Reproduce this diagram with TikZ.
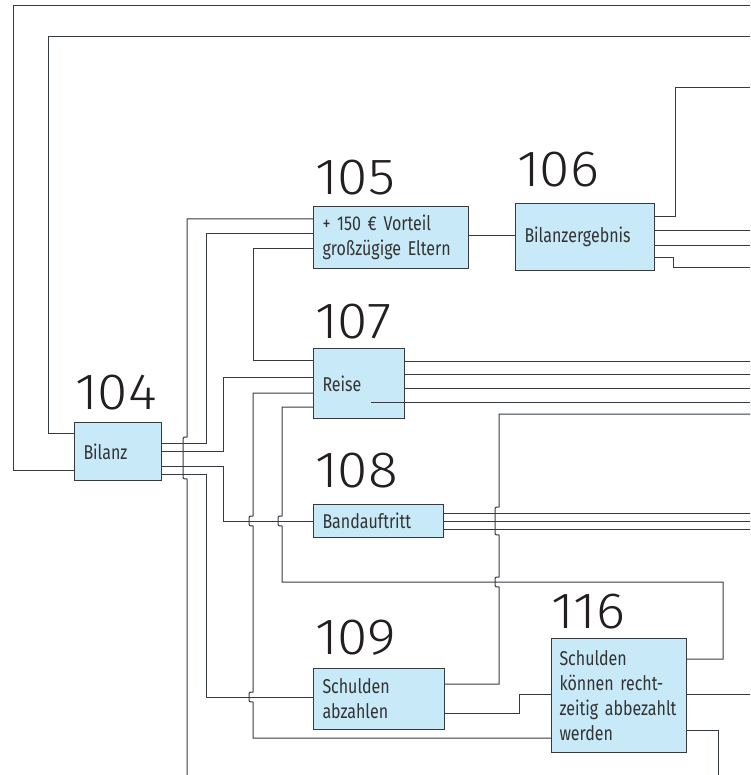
\documentclass[tikz,border=0pt]{standalone}
\usepackage{fontspec}
\setmainfont{Fira Sans}[FakeStretch=0.8, WordSpace=0.7]
\newfontfamily\numfont{Fira Sans Light}[FakeStretch=1.08]
\usetikzlibrary{positioning}

\definecolor{boxfill}{HTML}{C7E9F8}
\definecolor{wirecol}{HTML}{353B40}
\definecolor{numcol}{HTML}{231F20}

% vertical line hopping over horizontal ones
\newcommand{\hop}[3]{-- (#1,#2) .. controls (#1-4,#2) .. (#1-4,#2+4) -- (#1-4,#3-4) .. controls (#1-4,#3) .. (#1,#3)}

\begin{document}
\begin{tikzpicture}[
    x=1pt, y=-1pt,
    box/.style={rectangle, draw=wirecol, line width=1pt, fill=boxfill, anchor=north west, align=left, inner xsep=9pt, inner ysep=0pt, font=\fontsize{20}{25}\selectfont, text=black!80},
    num/.style={inner sep=0pt, font=\numfont\fontsize{51}{51}\selectfont, text=numcol},
    link/.style={draw=wirecol, line width=1pt}
]
\useasboundingbox (0,0) rectangle (750,775);

% Boxes
\node[box, text width=69pt, minimum height=58pt] (bilanz) at (74,422) {Bilanz};
\node[box, text width=137pt, minimum height=62pt] (vorteil) at (313,206) {+ 150 € Vorteil\\großzügige Eltern};
\node[box, text width=121pt, minimum height=67pt] (ergebnis) at (515,203) {Bilanzergebnis};
\node[box, text width=73pt, minimum height=70pt] (reise) at (313,348) {Reise};
\node[box, text width=112pt, minimum height=33pt] (band) at (313,504) {Bandauftritt};
\node[box, text width=113pt, minimum height=61pt] (abzahlen) at (313,668) {Schulden\\abzahlen};
\node[box, text width=119pt, inner xsep=8pt, minimum height=114pt] (rechtzeitig) at (551,638) {Schulden\\können recht-\\zeitig abbezahlt\\werden};

% Numbers
\node[num, above right=12pt and 1pt of bilanz.north west] (n104) {104};
\node[num, above right=11pt and 2pt of vorteil.north west] (n105) {105};
\node[num, above right=16pt and 2pt of ergebnis.north west] (n106) {106};
\node[num, above right=9pt and 2pt of reise.north west] (n107) {107};
\node[num, above right=16pt and 2pt of band.north west] (n108) {108};
\node[num, above right=12pt and 2pt of abzahlen.north west] (n109) {109};
\node[num, above right=9pt and 0pt of rechtzeitig.north west] (n116) {116};

% Free ends
\foreach \y in {6,37,88,231,246,267,361,374,388,402,414,513,521,529,694}
    \coordinate (rand\y) at (750,\y);
\coordinate (unten187) at (187,775);
\coordinate (unten718) at (718,775);
\coordinate (reisekante) at (371,402);

% Bilanz
\draw[link] (bilanz.west |- 0,470) -| (13,6) -- (rand6);
\draw[link] (bilanz.west |- 0,433) -| (48,37) -- (rand37);
\draw[link] (bilanz.east |- 0,443) -| (206,234) -- (vorteil.west |- 0,234);
\draw[link] (bilanz.east |- 0,451) -| (223,377) -- (reise.west |- 0,377);
\draw[link] (bilanz.east |- 0,466) -| (223,521) -- (band.west |- 0,521);
\draw[link] (bilanz.east |- 0,474) -| (206,697) -- (abzahlen.west |- 0,697);

% Vorteil
\draw[link] (vorteil.west |- 0,219) -| (187,437) \hop{187}{437}{479} -- (unten187);
\draw[link] (vorteil.west |- 0,249) -| (253,360) -- (reise.west |- 0,360);
\draw[link] (vorteil.east |- 0,236) -- (ergebnis.west |- 0,236);

% Bilanzergebnis
\draw[link] (ergebnis.east |- 0,217) -| (675,88) -- (rand88);
\draw[link] (ergebnis.east |- 0,231) -- (rand231);
\draw[link] (ergebnis.east |- 0,246) -- (rand246);
\draw[link] (ergebnis.east |- 0,258) -| (673,267) -- (rand267);

% Reise
\foreach \y in {361,374,388}
    \draw[link] (reise.east |- 0,\y) -- (rand\y);
\draw[link] (reisekante) -- (rand402);
\draw[link] (reise.west |- 0,393) -| (253,516) \hop{253}{516}{526} \hop{253}{692}{702} |- (rechtzeitig.west |- 0,738);
\draw[link] (reise.west |- 0,407) -| (282,516) \hop{282}{516}{526} |- (723,582) |- (rechtzeitig.east |- 0,659);

% Bandauftritt
\foreach \y in {513,521,529}
    \draw[link] (band.east |- 0,\y) -- (rand\y);

% Schulden abzahlen
\draw[link] (rand414) -| (499,507) \hop{499}{507}{535} \hop{499}{577}{587} |- (abzahlen.east |- 0,684);
\draw[link] (abzahlen.east |- 0,713) -| (519,694) -- (rechtzeitig.west |- 0,694);

% Schulden rechtzeitig
\draw[link] (rechtzeitig.east |- 0,694) -- (rand694);
\draw[link] (rechtzeitig.east |- 0,730) -| (unten718);

\end{tikzpicture}
\end{document}
